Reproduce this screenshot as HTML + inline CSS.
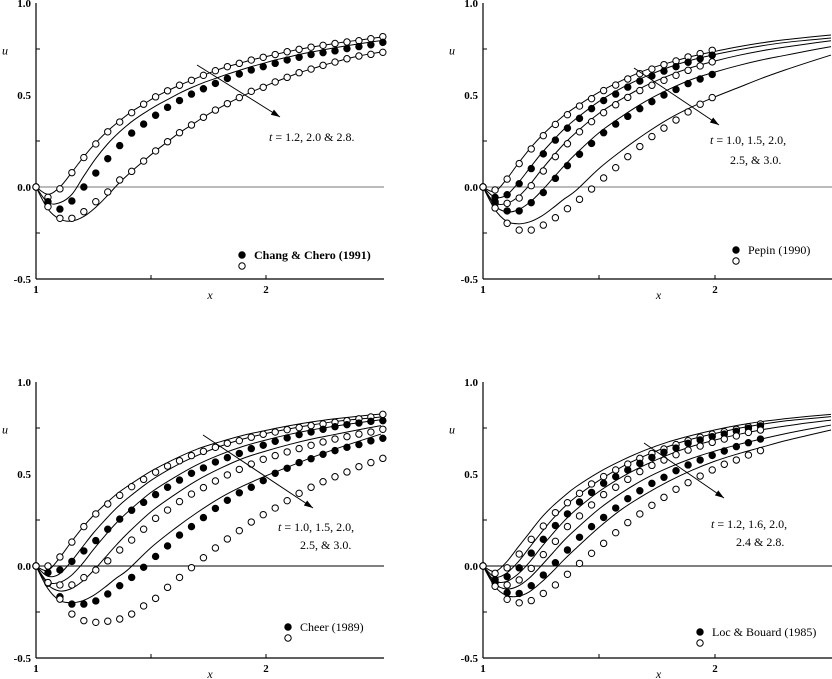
<!DOCTYPE html>
<html><head><meta charset="utf-8"><style>
html,body{margin:0;padding:0;background:#fff;}
svg{display:block;font-family:"Liberation Serif",serif;}
.tk{font-weight:bold;font-size:11px;}
</style></head><body>
<svg id="chart" width="832" height="679" viewBox="0 0 832 679" xmlns="http://www.w3.org/2000/svg"></svg>
<script>
// ---- data ----
const markerX = [1,1.052,1.104,1.156,1.208,1.26,1.312,1.364,1.416,1.468,1.52,1.572,1.624,1.676,1.728,1.78,1.832,1.884,1.936,1.988,2.04,2.092,2.144,2.196,2.248,2.3,2.352,2.404,2.456,2.508];
const curveX = [1,1.05,1.1,1.15,1.2,1.25,1.3,1.35,1.4,1.5,1.6,1.7,1.8,1.9,2.0,2.1,2.2,2.3,2.4,2.5];
const yTickLabels = ["1.0","0.5","0.0","-0.5"];
const yTickValues = [1.0,0.5,0.0,-0.5];
const xTickLabels = ["1","2"];
const xTickValues = [1,2];

// Top-left (Chang & Chero 1991), t = 1.2, 2.0, 2.8
const tlCurve12 = [0,-0.04,0.0,0.08,0.165,0.24,0.305,0.36,0.41,0.45,0.49,0.523,0.553,0.58,0.607,0.632,0.654,0.672,0.69,0.705,0.72,0.735,0.748,0.76,0.77,0.78,0.79,0.798,0.807,0.816];
const tlCurve20 = [0,-0.085,-0.085,-0.04,0.06,0.155,0.235,0.30,0.355,0.40,0.44,0.475,0.51,0.54,0.567,0.59,0.613,0.634,0.654,0.672,0.69,0.705,0.72,0.733,0.745,0.757,0.768,0.778,0.788,0.797];
const tlCurve28 = [0,-0.12,-0.175,-0.185,-0.16,-0.11,-0.045,0.025,0.085,0.141,0.196,0.246,0.295,0.337,0.379,0.418,0.453,0.486,0.516,0.544,0.571,0.596,0.621,0.641,0.661,0.679,0.697,0.712,0.724,0.735];
const tlOpenTop = [0,-0.056,-0.01,0.078,0.16,0.234,0.30,0.353,0.404,0.45,0.49,0.523,0.553,0.58,0.607,0.632,0.654,0.672,0.69,0.705,0.72,0.735,0.748,0.76,0.77,0.78,0.788,0.795,0.806,0.817];
const tlFilled = [0,-0.08,-0.12,-0.076,0,0.076,0.154,0.225,0.293,0.342,0.39,0.433,0.47,0.505,0.534,0.563,0.59,0.614,0.636,0.654,0.672,0.69,0.705,0.72,0.73,0.74,0.752,0.763,0.773,0.786];
const tlOpenBot = [0,-0.107,-0.17,-0.17,-0.134,-0.08,-0.027,0.038,0.085,0.141,0.196,0.246,0.295,0.337,0.379,0.418,0.453,0.486,0.52,0.542,0.571,0.596,0.621,0.641,0.661,0.679,0.697,0.712,0.721,0.732];

// Model curves t = 1.0, 1.5, 2.0, 2.5, 3.0 (top-right and bottom-left)
const mCurve10 = [0,-0.025,0.04,0.125,0.205,0.275,0.335,0.39,0.435,0.515,0.58,0.635,0.675,0.71,0.737,0.762,0.783,0.80,0.814,0.826];
const mCurve15 = [0,-0.055,-0.045,0.02,0.10,0.18,0.25,0.315,0.37,0.465,0.54,0.60,0.65,0.69,0.72,0.745,0.767,0.785,0.798,0.81];
const mCurve20 = [0,-0.085,-0.09,-0.055,0.01,0.09,0.165,0.235,0.295,0.40,0.48,0.55,0.605,0.65,0.685,0.715,0.74,0.76,0.778,0.795];
const mCurve25 = [0,-0.10,-0.135,-0.125,-0.085,-0.025,0.045,0.115,0.18,0.295,0.385,0.465,0.53,0.585,0.625,0.66,0.69,0.715,0.74,0.763];
const mCurve30 = [0,-0.12,-0.185,-0.20,-0.19,-0.16,-0.115,-0.065,-0.02,0.10,0.20,0.29,0.37,0.435,0.49,0.54,0.59,0.635,0.677,0.717];

// Top-right (Pepin 1990)
const trOpen10 = [0,-0.016,0.043,0.127,0.207,0.279,0.34,0.393,0.44,0.48,0.524,0.554,0.587,0.616,0.641,0.665,0.685,0.707,0.725,0.743];
const trFilled15 = [0,-0.056,-0.042,0.018,0.10,0.18,0.255,0.32,0.373,0.426,0.47,0.505,0.543,0.576,0.603,0.63,0.654,0.678,0.697,0.716];
const trOpen20 = [0,-0.089,-0.089,-0.06,0.007,0.087,0.165,0.235,0.3,0.355,0.404,0.447,0.487,0.524,0.553,0.58,0.607,0.634,0.658,0.68];
const trFilled25 = [0,-0.08,-0.13,-0.13,-0.085,-0.03,0.047,0.116,0.178,0.237,0.295,0.342,0.384,0.426,0.464,0.5,0.53,0.562,0.587,0.612];
const trOpen30 = [0,-0.114,-0.197,-0.234,-0.234,-0.207,-0.167,-0.118,-0.067,-0.011,0.049,0.105,0.165,0.22,0.274,0.32,0.364,0.408,0.45,0.486];

// Bottom-left (Cheer 1989)
const blOpen10 = [0,0,0.049,0.13,0.214,0.283,0.337,0.384,0.431,0.471,0.51,0.543,0.572,0.6,0.623,0.645,0.667,0.681,0.7,0.716,0.728,0.741,0.752,0.763,0.772,0.781,0.79,0.80,0.81,0.824];
const blFilled15 = [0,-0.036,-0.022,0.025,0.082,0.138,0.2,0.255,0.303,0.346,0.388,0.428,0.467,0.504,0.533,0.565,0.589,0.612,0.638,0.656,0.678,0.696,0.714,0.728,0.743,0.757,0.768,0.777,0.786,0.79];
const blOpen20 = [0,-0.094,-0.103,-0.103,-0.063,-0.022,0.028,0.087,0.141,0.2,0.259,0.304,0.35,0.391,0.426,0.462,0.495,0.525,0.554,0.58,0.6,0.62,0.638,0.656,0.674,0.69,0.703,0.717,0.728,0.743];
const blFilled25 = [0,-0.09,-0.167,-0.207,-0.207,-0.19,-0.152,-0.107,-0.062,-0.007,0.052,0.109,0.168,0.214,0.263,0.313,0.357,0.398,0.428,0.464,0.504,0.531,0.562,0.583,0.607,0.627,0.645,0.66,0.68,0.694];
const blOpen30 = [0,-0.09,-0.18,-0.261,-0.297,-0.306,-0.30,-0.288,-0.261,-0.217,-0.176,-0.116,-0.062,-0.009,0.045,0.098,0.147,0.192,0.239,0.279,0.315,0.355,0.395,0.428,0.458,0.485,0.511,0.54,0.562,0.585];

// Bottom-right (Loc & Bouard 1985), t = 1.2, 1.6, 2.0, 2.4, 2.8
const brCurve12 = [0,-0.03,0.02,0.10,0.18,0.26,0.325,0.38,0.43,0.51,0.575,0.63,0.675,0.71,0.74,0.765,0.785,0.80,0.813,0.824];
const brCurve16 = [0,-0.06,-0.04,0.02,0.10,0.18,0.255,0.32,0.375,0.465,0.54,0.60,0.65,0.69,0.72,0.748,0.77,0.788,0.80,0.812];
const brCurve20 = [0,-0.08,-0.085,-0.045,0.02,0.10,0.175,0.245,0.305,0.405,0.485,0.55,0.605,0.65,0.685,0.715,0.74,0.76,0.778,0.793];
const brCurve24 = [0,-0.095,-0.125,-0.11,-0.065,0.0,0.07,0.14,0.20,0.31,0.40,0.475,0.535,0.585,0.625,0.66,0.69,0.718,0.743,0.766];
const brCurve28 = [0,-0.11,-0.16,-0.165,-0.14,-0.09,-0.03,0.035,0.095,0.21,0.31,0.39,0.46,0.52,0.57,0.61,0.645,0.68,0.71,0.739];
const brOpen12 = [0,-0.04,-0.01,0.065,0.145,0.217,0.29,0.344,0.395,0.446,0.486,0.522,0.554,0.585,0.612,0.636,0.66,0.681,0.70,0.717,0.73,0.743,0.757,0.772];
const brFilled16 = [0,-0.075,-0.058,-0.01,0.07,0.145,0.22,0.283,0.348,0.40,0.45,0.486,0.522,0.558,0.59,0.618,0.641,0.667,0.685,0.703,0.717,0.732,0.748,0.761];
const brOpen20 = [0,-0.09,-0.103,-0.076,-0.013,0.062,0.134,0.214,0.272,0.332,0.388,0.428,0.471,0.513,0.547,0.576,0.605,0.63,0.652,0.672,0.69,0.707,0.726,0.739];
const brFilled24 = [0,-0.085,-0.145,-0.149,-0.107,-0.049,0.018,0.087,0.156,0.214,0.264,0.315,0.366,0.409,0.449,0.482,0.518,0.549,0.576,0.601,0.625,0.649,0.67,0.69];
const brOpen28 = [0,-0.11,-0.181,-0.20,-0.188,-0.149,-0.103,-0.045,0.014,0.069,0.123,0.181,0.236,0.283,0.33,0.373,0.417,0.453,0.489,0.522,0.553,0.576,0.603,0.627];

// ---- drawing ----
const NS = "http://www.w3.org/2000/svg";
const svg = document.getElementById("chart");
function mk(tag, attrs, parent){
  const e = document.createElementNS(NS, tag);
  for (const k in attrs) e.setAttribute(k, attrs[k]);
  (parent||svg).appendChild(e);
  return e;
}
function smoothPath(pts){
  let d = "M" + pts[0][0].toFixed(2) + "," + pts[0][1].toFixed(2);
  for (let i=0;i<pts.length-1;i++){
    const p0 = pts[i-1]||pts[i], p1=pts[i], p2=pts[i+1], p3=pts[i+2]||pts[i+1];
    const c1x=p1[0]+(p2[0]-p0[0])/6, c1y=p1[1]+(p2[1]-p0[1])/6;
    const c2x=p2[0]-(p3[0]-p1[0])/6, c2y=p2[1]-(p3[1]-p1[1])/6;
    d += " C"+c1x.toFixed(2)+","+c1y.toFixed(2)+" "+c2x.toFixed(2)+","+c2y.toFixed(2)+" "+p2[0].toFixed(2)+","+p2[1].toFixed(2);
  }
  return d;
}

function panel(cfg){
  const g = mk("g", {});
  
  
  const X = v => cfg.ox + (v-1)*cfg.sx;
  const Y = v => cfg.y0 - v*184;
  const xr = cfg.xEndPx;
  // zero line
  const z = mk("line", {x1:X(1), y1:Y(0), x2:xr, y2:Y(0), stroke:cfg.zeroColor, "stroke-width":1}, g);
  
  
  // axes
  const ya = mk("line", {x1:X(1), y1:Y(1.0), x2:X(1), y2:Y(-0.5), stroke:"#000", "stroke-width":1.2}, g);
  
  
  const xa = mk("line", {x1:X(1), y1:Y(-0.5), x2:xr, y2:Y(-0.5), stroke:"#000", "stroke-width":1.2}, g);
  
  
  [0.75,0.25,-0.25].forEach(v=>{
    const t = mk("line", {x1:X(1), y1:Y(v), x2:X(1)+4, y2:Y(v), stroke:"#000"}, g);
    
    
  });
  [1.5,2].forEach(v=>{
    const t = mk("line", {x1:X(v), y1:Y(-0.5), x2:X(v), y2:Y(-0.5)-4, stroke:"#000"}, g);
    
    
  });
  yTickLabels.forEach((s,i)=>{
    const t = mk("text", {x:X(1)-5, y:Y(yTickValues[i])+4, "text-anchor":"end", class:"tk"}, g);
    t.textContent = s;
    
    
  });
  xTickLabels.forEach((s,i)=>{
    const t = mk("text", {x:X(xTickValues[i]), y:Y(-0.5)+14, "text-anchor":"middle", class:"tk"}, g);
    t.textContent = s;
    
    
  });
  const ul = mk("text", {x:X(1)-34, y:Y(0.72), "font-style":"italic", "font-size":"12"}, g);
  ul.textContent = "u";
  
  
  const xl = mk("text", {x:X(1.745), y:Y(-0.5)+20, "font-style":"italic", "font-size":"12"}, g);
  xl.textContent = "x";
  
  
  // curves
  cfg.curves.forEach(c=>{
    const pts = c.x.map((xv,i)=>[X(xv), Y(c.y[i])]);
    const p = mk("path", {d:smoothPath(pts), fill:"none", stroke:"#000", "stroke-width":1}, g);
    
    
  });
  // markers
  cfg.markers.forEach(m=>{
    m.y.forEach((v,i)=>{
      const c = mk("circle", {cx:X(markerX[i]), cy:Y(v), r:3.2, fill:m.filled?"#000":"#fff", stroke:"#000", "stroke-width":1}, g);
      
      
    });
  });
  // arrow
  const a = cfg.arrow;
  const ar = mk("line", {x1:a[0], y1:a[1], x2:a[2], y2:a[3], stroke:"#000", "stroke-width":1}, g);
  
  
  const ang = Math.atan2(a[3]-a[1], a[2]-a[0]), L=9, W=3;
  const bx=a[2]-L*Math.cos(ang), by=a[3]-L*Math.sin(ang);
  const ah = mk("polygon", {points:[a[2],a[3], bx-W*Math.sin(ang), by+W*Math.cos(ang), bx+W*Math.sin(ang), by-W*Math.cos(ang)].join(","), fill:"#000"}, g);
  
  
  cfg.notes.forEach(n=>{
    const t = mk("text", {x:n[0], y:n[1], "font-size":"12"}, g);
    t.innerHTML = n[2];
    
    
  });
  // legend
  const lf = mk("circle", {cx:cfg.leg[0], cy:cfg.leg[1], r:3.2, fill:"#000", stroke:"#000"}, g);
  
  
  const lo = mk("circle", {cx:cfg.leg[0], cy:cfg.leg[1]+11, r:3.2, fill:"#fff", stroke:"#000"}, g);
  
  
  const lt = mk("text", {x:cfg.leg[0]+12, y:cfg.leg[1]+4, "font-size":"12", "font-weight":cfg.legBold?"bold":"normal"}, g);
  lt.textContent = cfg.legText;
  
  
}

panel({name:"panel-chang-chero", ox:36, sx:230, y0:187, xEndPx:384, zeroColor:"#777",
  curves:[{label:"t1.2",x:markerX,y:tlCurve12},{label:"t2.0",x:markerX,y:tlCurve20},{label:"t2.8",x:markerX,y:tlCurve28}],
  markers:[{label:"t1.2",filled:false,y:tlOpenTop},{label:"t2.0",filled:true,y:tlFilled},{label:"t2.8",filled:false,y:tlOpenBot}],
  arrow:[197,65,280,117],
  notes:[[269,141,'<tspan font-style="italic">t</tspan> =  1.2, 2.0 &amp; 2.8.']],
  leg:[242,255], legText:"Chang & Chero (1991)", legBold:true});

panel({name:"panel-pepin", ox:483, sx:232, y0:187, xEndPx:832, zeroColor:"#777",
  curves:[{label:"t1.0",x:curveX,y:mCurve10},{label:"t1.5",x:curveX,y:mCurve15},{label:"t2.0",x:curveX,y:mCurve20},{label:"t2.5",x:curveX,y:mCurve25},{label:"t3.0",x:curveX,y:mCurve30}],
  markers:[{label:"t1.0",filled:false,y:trOpen10},{label:"t1.5",filled:true,y:trFilled15},{label:"t2.0",filled:false,y:trOpen20},{label:"t2.5",filled:true,y:trFilled25},{label:"t3.0",filled:false,y:trOpen30}],
  arrow:[634,68,719,125],
  notes:[[710,144,'<tspan font-style="italic">t</tspan> =  1.0, 1.5, 2.0,'],[730,164,'2.5, &amp; 3.0.']],
  leg:[736,250], legText:"Pepin (1990)", legBold:false});

panel({name:"panel-cheer", ox:36, sx:230, y0:566, xEndPx:384, zeroColor:"#000",
  curves:[{label:"t1.0",x:curveX,y:mCurve10},{label:"t1.5",x:curveX,y:mCurve15},{label:"t2.0",x:curveX,y:mCurve20},{label:"t2.5",x:curveX,y:mCurve25},{label:"t3.0",x:curveX,y:mCurve30}],
  markers:[{label:"t1.0",filled:false,y:blOpen10},{label:"t1.5",filled:true,y:blFilled15},{label:"t2.0",filled:false,y:blOpen20},{label:"t2.5",filled:true,y:blFilled25},{label:"t3.0",filled:false,y:blOpen30}],
  arrow:[203,435,313,508],
  notes:[[278,531,'<tspan font-style="italic">t</tspan> =  1.0, 1.5, 2.0,'],[300,549,'2.5, &amp; 3.0.']],
  leg:[288,627], legText:"Cheer (1989)", legBold:false});

panel({name:"panel-loc-bouard", ox:483, sx:232, y0:566, xEndPx:832, zeroColor:"#000",
  curves:[{label:"t1.2",x:curveX,y:brCurve12},{label:"t1.6",x:curveX,y:brCurve16},{label:"t2.0",x:curveX,y:brCurve20},{label:"t2.4",x:curveX,y:brCurve24},{label:"t2.8",x:curveX,y:brCurve28}],
  markers:[{label:"t1.2",filled:false,y:brOpen12},{label:"t1.6",filled:true,y:brFilled16},{label:"t2.0",filled:false,y:brOpen20},{label:"t2.4",filled:true,y:brFilled24},{label:"t2.8",filled:false,y:brOpen28}],
  arrow:[644,443,724,498],
  notes:[[711,528,'<tspan font-style="italic">t</tspan> =  1.2, 1.6, 2.0,'],[736,546,'2.4 &amp; 2.8.']],
  leg:[700,632], legText:"Loc & Bouard (1985)", legBold:false});
</script>
</body></html>
